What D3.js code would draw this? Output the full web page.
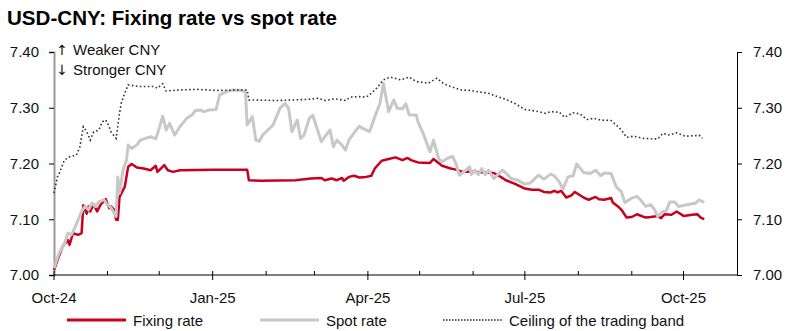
<!DOCTYPE html>
<html>
<head>
<meta charset="utf-8">
<script src="https://cdn.jsdelivr.net/npm/d3@7"></script>
<style>
  html, body { margin: 0; padding: 0; background: #fff; }
  svg { display: block; font-family: "Liberation Sans", Arial, sans-serif; }
</style>
</head>
<body>
<svg id="chart" width="786" height="331"></svg>
<script>
// USD-CNY daily fixing, spot and the +2% ceiling of the trading band
const fixingRate = [
  ["2024-10-01",7.009],["2024-10-04",7.035],["2024-10-06",7.051],["2024-10-09",7.063],["2024-10-10",7.054],
  ["2024-10-12",7.075],["2024-10-15",7.072],["2024-10-17",7.075],["2024-10-18",7.125],["2024-10-20",7.110],
  ["2024-10-21",7.123],["2024-10-22",7.114],["2024-10-24",7.127],["2024-10-26",7.114],["2024-10-28",7.126],
  ["2024-10-31",7.136],["2024-11-02",7.120],["2024-11-03",7.123],["2024-11-05",7.117],["2024-11-06",7.099],
  ["2024-11-07",7.099],["2024-11-08",7.140],["2024-11-11",7.158],["2024-11-13",7.194],["2024-11-15",7.199],
  ["2024-11-18",7.193],["2024-11-22",7.191],["2024-11-26",7.188],["2024-11-29",7.196],["2024-11-30",7.185],
  ["2024-12-04",7.197],["2024-12-06",7.188],["2024-12-09",7.185],["2024-12-13",7.188],["2025-01-01",7.189],
  ["2025-01-21",7.189],["2025-01-22",7.170],["2025-01-29",7.169],["2025-02-18",7.170],["2025-02-27",7.173],
  ["2025-03-05",7.174],["2025-03-07",7.170],["2025-03-11",7.173],["2025-03-14",7.170],["2025-03-17",7.174],
  ["2025-03-18",7.169],["2025-03-21",7.176],["2025-03-24",7.178],["2025-03-27",7.175],["2025-03-31",7.176],
  ["2025-04-03",7.178],["2025-04-05",7.191],["2025-04-09",7.205],["2025-04-13",7.208],["2025-04-17",7.211],
  ["2025-04-21",7.206],["2025-04-24",7.210],["2025-04-26",7.206],["2025-04-30",7.202],["2025-05-07",7.201],
  ["2025-05-09",7.208],["2025-05-14",7.196],["2025-05-19",7.191],["2025-05-22",7.189],["2025-05-26",7.185],
  ["2025-06-01",7.185],["2025-06-07",7.184],["2025-06-13",7.183],["2025-06-17",7.176],["2025-06-20",7.170],
  ["2025-06-25",7.164],["2025-07-01",7.155],["2025-07-05",7.153],["2025-07-09",7.153],["2025-07-12",7.149],
  ["2025-07-16",7.148],["2025-07-18",7.151],["2025-07-20",7.148],["2025-07-22",7.151],["2025-07-25",7.139],
  ["2025-07-28",7.143],["2025-07-30",7.149],["2025-08-02",7.143],["2025-08-04",7.139],["2025-08-07",7.135],
  ["2025-08-11",7.140],["2025-08-13",7.136],["2025-08-16",7.135],["2025-08-20",7.138],["2025-08-21",7.130],
  ["2025-08-24",7.123],["2025-08-26",7.117],["2025-08-29",7.103],["2025-09-01",7.104],["2025-09-04",7.109],
  ["2025-09-09",7.103],["2025-09-12",7.104],["2025-09-16",7.106],["2025-09-18",7.102],["2025-09-20",7.109],
  ["2025-09-24",7.108],["2025-09-27",7.114],["2025-10-01",7.106],["2025-10-06",7.108],["2025-10-09",7.109],
  ["2025-10-11",7.103],["2025-10-13",7.100]
];

const spotRate = [
  ["2024-10-01",7.012],["2024-10-04",7.040],["2024-10-07",7.055],["2024-10-09",7.075],["2024-10-11",7.072],
  ["2024-10-13",7.084],["2024-10-17",7.114],["2024-10-19",7.123],["2024-10-21",7.117],["2024-10-23",7.129],
  ["2024-10-25",7.123],["2024-10-27",7.131],["2024-10-30",7.135],["2024-11-01",7.126],["2024-11-03",7.121],
  ["2024-11-06",7.105],["2024-11-07",7.176],["2024-11-08",7.147],["2024-11-10",7.188],["2024-11-12",7.206],
  ["2024-11-13",7.233],["2024-11-15",7.227],["2024-11-18",7.233],["2024-11-20",7.242],["2024-11-23",7.245],
  ["2024-11-26",7.248],["2024-11-29",7.244],["2024-12-01",7.263],["2024-12-03",7.285],["2024-12-05",7.260],
  ["2024-12-07",7.272],["2024-12-10",7.251],["2024-12-13",7.266],["2024-12-17",7.281],["2024-12-20",7.287],
  ["2024-12-22",7.295],["2024-12-25",7.296],["2024-12-27",7.293],["2024-12-30",7.296],["2025-01-03",7.297],
  ["2025-01-05",7.323],["2025-01-09",7.329],["2025-01-13",7.332],["2025-01-18",7.331],["2025-01-20",7.328],
  ["2025-01-21",7.269],["2025-01-24",7.284],["2025-01-26",7.242],["2025-01-28",7.240],["2025-01-30",7.251],
  ["2025-02-05",7.269],["2025-02-09",7.299],["2025-02-12",7.308],["2025-02-14",7.299],["2025-02-16",7.257],
  ["2025-02-19",7.278],["2025-02-21",7.245],["2025-02-23",7.251],["2025-02-26",7.281],["2025-02-28",7.287],
  ["2025-03-05",7.239],["2025-03-07",7.248],["2025-03-10",7.260],["2025-03-12",7.230],["2025-03-14",7.242],
  ["2025-03-17",7.233],["2025-03-19",7.224],["2025-03-21",7.242],["2025-03-23",7.251],["2025-03-25",7.259],
  ["2025-03-27",7.267],["2025-03-29",7.263],["2025-04-02",7.257],["2025-04-05",7.284],["2025-04-08",7.308],
  ["2025-04-10",7.344],["2025-04-13",7.293],["2025-04-16",7.314],["2025-04-18",7.299],["2025-04-21",7.298],
  ["2025-04-23",7.307],["2025-04-25",7.287],["2025-04-29",7.287],["2025-04-30",7.275],["2025-05-03",7.254],
  ["2025-05-07",7.221],["2025-05-09",7.242],["2025-05-12",7.209],["2025-05-14",7.203],["2025-05-17",7.209],
  ["2025-05-20",7.213],["2025-05-22",7.200],["2025-05-24",7.179],["2025-05-27",7.186],["2025-05-30",7.194],
  ["2025-05-31",7.180],["2025-06-02",7.188],["2025-06-04",7.180],["2025-06-06",7.191],["2025-06-08",7.180],
  ["2025-06-10",7.188],["2025-06-13",7.173],["2025-06-16",7.182],["2025-06-18",7.188],["2025-06-20",7.183],
  ["2025-06-23",7.173],["2025-06-27",7.170],["2025-07-01",7.163],["2025-07-04",7.165],["2025-07-09",7.179],
  ["2025-07-12",7.172],["2025-07-16",7.181],["2025-07-18",7.178],["2025-07-21",7.167],["2025-07-23",7.154],
  ["2025-07-26",7.176],["2025-07-29",7.178],["2025-07-31",7.199],["2025-08-04",7.184],["2025-08-08",7.182],
  ["2025-08-11",7.188],["2025-08-14",7.178],["2025-08-16",7.183],["2025-08-20",7.182],["2025-08-23",7.158],
  ["2025-08-26",7.149],["2025-08-28",7.130],["2025-09-01",7.138],["2025-09-04",7.141],["2025-09-06",7.135],
  ["2025-09-09",7.123],["2025-09-12",7.126],["2025-09-14",7.118],["2025-09-16",7.105],["2025-09-19",7.114],
  ["2025-09-21",7.115],["2025-09-23",7.131],["2025-09-26",7.131],["2025-09-28",7.123],["2025-10-03",7.126],
  ["2025-10-08",7.129],["2025-10-10",7.135],["2025-10-13",7.130]
];

const bandCeiling = [
  ["2024-10-01",7.147],["2024-10-03",7.176],["2024-10-04",7.182],["2024-10-07",7.206],["2024-10-10",7.212],
  ["2024-10-14",7.215],["2024-10-16",7.230],["2024-10-18",7.266],["2024-10-20",7.257],["2024-10-22",7.242],
  ["2024-10-24",7.257],["2024-10-27",7.260],["2024-10-29",7.275],["2024-10-31",7.278],["2024-11-02",7.266],
  ["2024-11-03",7.257],["2024-11-06",7.245],["2024-11-08",7.290],["2024-11-09",7.308],["2024-11-11",7.326],
  ["2024-11-13",7.341],["2024-11-20",7.338],["2024-11-28",7.338],["2024-11-30",7.335],["2024-12-03",7.343],
  ["2024-12-05",7.330],["2024-12-13",7.332],["2024-12-23",7.333],["2025-01-03",7.331],["2025-01-21",7.332],
  ["2025-01-22",7.314],["2025-02-08",7.313],["2025-02-25",7.315],["2025-03-03",7.317],["2025-03-07",7.313],
  ["2025-03-13",7.316],["2025-03-19",7.313],["2025-03-22",7.319],["2025-03-27",7.320],["2025-03-31",7.319],
  ["2025-04-03",7.326],["2025-04-06",7.335],["2025-04-10",7.350],["2025-04-14",7.355],["2025-04-20",7.350],
  ["2025-04-25",7.355],["2025-04-29",7.347],["2025-05-06",7.344],["2025-05-11",7.353],["2025-05-15",7.343],
  ["2025-05-19",7.338],["2025-05-25",7.332],["2025-05-31",7.331],["2025-06-03",7.329],["2025-06-10",7.326],
  ["2025-06-14",7.321],["2025-06-20",7.315],["2025-06-25",7.308],["2025-07-01",7.297],["2025-07-09",7.293],
  ["2025-07-13",7.290],["2025-07-16",7.293],["2025-07-21",7.292],["2025-07-24",7.283],["2025-07-29",7.291],
  ["2025-08-02",7.289],["2025-08-06",7.279],["2025-08-10",7.281],["2025-08-14",7.278],["2025-08-20",7.277],
  ["2025-08-23",7.269],["2025-08-26",7.260],["2025-08-29",7.247],["2025-09-02",7.249],["2025-09-08",7.245],
  ["2025-09-16",7.244],["2025-09-19",7.254],["2025-09-23",7.251],["2025-09-27",7.255],["2025-10-02",7.249],
  ["2025-10-08",7.250],["2025-10-10",7.251],["2025-10-12",7.245]
];

const yTicks = [7.00, 7.10, 7.20, 7.30, 7.40];
const xMajorTicks = ["2024-10-01", "2025-01-01", "2025-04-01", "2025-07-01", "2025-10-01"];
const xDomain = ["2024-10-01", "2025-11-01"];

const legendItems = ["Fixing rate", "Spot rate", "Ceiling of the trading band"];
const titleText = "USD-CNY: Fixing rate vs spot rate";
const noteArrows = ["\u2191", "\u2193"];
const noteLines = ["Weaker CNY", "Stronger CNY"];

const parse = d3.utcParse("%Y-%m-%d");
const svg = d3.select("#chart");

const plotLeft = 54, plotRight = 737, plotTop = 52, plotBottom = 275;

const x = d3.scaleUtc().domain(xDomain.map(parse)).range([plotLeft, plotRight]);
const y = d3.scaleLinear().domain([7.0, 7.4]).range([plotBottom, plotTop]);

const FONT = 15;
const TXT = "#111";

// Title
svg.append("text")
  .attr("x", 7).attr("y", 25)
  .attr("font-size", 19.5).attr("font-weight", "bold").attr("fill", "#000")
  .attr("textLength", 330).attr("lengthAdjust", "spacingAndGlyphs")
  .text(titleText);

// Left value axis
const yLeft = d3.axisLeft(y).tickValues(yTicks).tickFormat(d3.format(".2f")).tickSize(5).tickPadding(10);
const gL = svg.append("g").attr("transform", `translate(${plotLeft},0)`).call(yLeft);
gL.select(".domain").attr("stroke", "#9a9a9a").attr("stroke-width", 2);
gL.selectAll(".tick line").attr("stroke", "#000");

// Right value axis
const yRight = d3.axisRight(y).tickValues(yTicks).tickFormat(d3.format(".2f")).tickSize(5).tickPadding(11);
const gR = svg.append("g").attr("transform", `translate(${plotRight},0)`).call(yRight);
gR.select(".domain").attr("stroke", "#000");

[gL, gR].forEach(g => g.selectAll(".tick text")
  .attr("font-size", FONT).attr("fill", TXT)
  .attr("font-family", "'Liberation Sans', Arial, sans-serif"));

// Time axis: monthly minor ticks inward, quarterly labels
const months = d3.utcMonth.range(x.domain()[0], x.domain()[1]);
const majorSet = new Set(xMajorTicks);
const fmtKey = d3.utcFormat("%Y-%m-%d");
const gX = svg.append("g");
gX.append("line")
  .attr("x1", plotLeft).attr("x2", plotRight).attr("y1", plotBottom).attr("y2", plotBottom)
  .attr("stroke", "#000");
gX.selectAll("line.mtick").data(months).join("line")
  .attr("class", "mtick")
  .attr("x1", d => x(d)).attr("x2", d => x(d))
  .attr("y1", plotBottom - 4)
  .attr("y2", d => majorSet.has(fmtKey(d)) ? plotBottom + 5 : plotBottom)
  .attr("stroke", "#000");
gX.selectAll("text").data(xMajorTicks.map(parse)).join("text")
  .attr("x", d => x(d)).attr("y", 303)
  .attr("text-anchor", "middle")
  .attr("font-size", FONT).attr("fill", TXT)
  .text(d3.utcFormat("%b-%y"));

// Series
const line = d3.line().x(d => x(parse(d[0]))).y(d => y(d[1]));

svg.append("path").datum(fixingRate)
  .attr("d", line).attr("fill", "none")
  .attr("stroke", "#c8001e").attr("stroke-width", 2.5)
  .attr("stroke-linejoin", "round");

svg.append("path").datum(spotRate)
  .attr("d", line).attr("fill", "none")
  .attr("stroke", "#c8c8c8").attr("stroke-width", 3)
  .attr("stroke-linejoin", "round");

svg.append("path").datum(bandCeiling)
  .attr("d", line).attr("fill", "none")
  .attr("stroke", "#333").attr("stroke-width", 1.6)
  .attr("stroke-dasharray", "1.6,2.4");

// Direction note: arrows, then the words
const note = svg.append("g");
noteLines.forEach((txt, i) => {
  const by = 55 + i * 20;
  note.append("text")
    .attr("x", 62).attr("y", by)
    .attr("font-family", "'DejaVu Sans', 'Liberation Sans', sans-serif")
    .attr("font-size", 14).attr("fill", TXT)
    .attr("text-anchor", "middle")
    .text(noteArrows[i]);
  note.append("text")
    .attr("x", 73).attr("y", by)
    .attr("font-size", FONT).attr("fill", TXT)
    .text(txt);
});

// Legend
const legendStyles = [
  { x: 67, stroke: "#c8001e", width: 3, dash: null },
  { x: 260, stroke: "#c8c8c8", width: 3, dash: null },
  { x: 443, stroke: "#333", width: 1.6, dash: "1.6,1.4" }
];
const lg = svg.append("g");
legendItems.forEach((label, i) => {
  const s = legendStyles[i];
  lg.append("line")
    .attr("x1", s.x).attr("x2", s.x + 59).attr("y1", 320).attr("y2", 320)
    .attr("stroke", s.stroke).attr("stroke-width", s.width)
    .attr("stroke-dasharray", s.dash);
  lg.append("text")
    .attr("x", s.x + 66).attr("y", 326)
    .attr("font-size", FONT).attr("fill", TXT)
    .text(label);
});
</script>
</body>
</html>
